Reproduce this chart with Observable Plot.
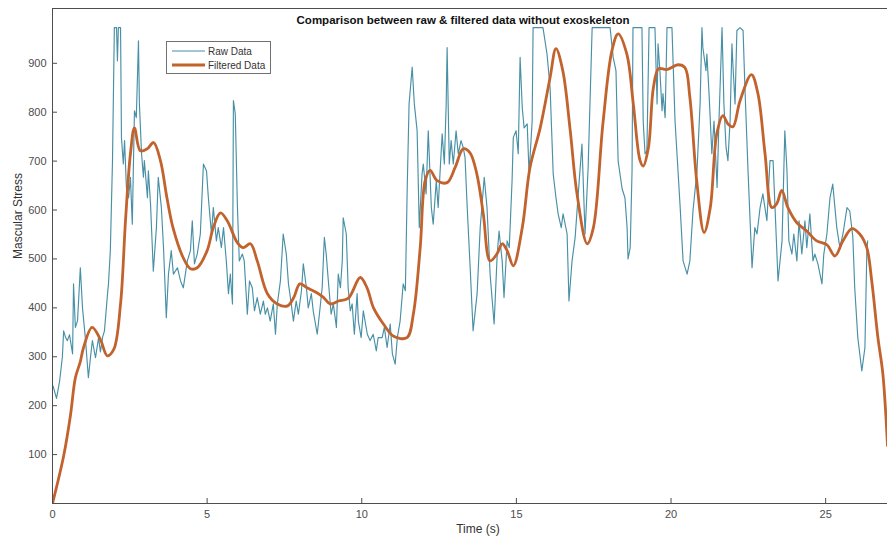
<!DOCTYPE html>
<html>
<head>
<meta charset="utf-8">
<script src="https://cdn.jsdelivr.net/npm/d3@7"></script>
<script src="https://cdn.jsdelivr.net/npm/@observablehq/plot@0.6"></script>
<style>
  body { margin: 0; background: #fff; }
  #wrap { position: relative; width: 887px; height: 540px; overflow: hidden; font-family: "Liberation Sans", Arial, sans-serif; }
  #legend { position: absolute; left: 166px; top: 41px; width: 103px; height: 31px; border: 1px solid #707070; background: #fff; }
</style>
</head>
<body>
<div id="wrap"></div>
<script>
const chartTitle = "Comparison between raw & filtered data without exoskeleton";
const xLabel = "Time (s)";
const yLabel = "Mascular Stress";
const seriesNames = ["Raw Data", "Filtered Data"];
const xTicks = [0, 5, 10, 15, 20, 25];
const yTicks = [100, 200, 300, 400, 500, 600, 700, 800, 900];
const xDomain = [0, 27];
const yDomain = [0, 1012];

const rawTime = [0.02,0.13,0.23,0.32,0.36,0.42,0.48,0.55,0.65,0.68,0.74,0.81,0.9,0.97,1.07,1.16,1.23,1.29,1.39,1.49,1.55,1.62,1.68,1.78,1.81,1.87,1.94,2.0,2.07,2.1,2.13,2.2,2.23,2.29,2.33,2.39,2.46,2.52,2.58,2.65,2.71,2.78,2.81,2.88,2.94,2.97,3.07,3.1,3.17,3.26,3.36,3.42,3.52,3.59,3.68,3.75,3.84,3.91,4.04,4.14,4.23,4.36,4.46,4.52,4.59,4.68,4.78,4.88,4.98,5.04,5.14,5.2,5.3,5.36,5.46,5.53,5.62,5.69,5.75,5.82,5.85,5.91,5.98,6.04,6.14,6.2,6.3,6.37,6.46,6.53,6.62,6.72,6.82,6.88,6.95,7.04,7.14,7.21,7.27,7.37,7.46,7.56,7.63,7.72,7.79,7.88,7.95,8.05,8.11,8.21,8.27,8.37,8.43,8.56,8.63,8.72,8.79,8.85,8.92,9.01,9.08,9.18,9.24,9.31,9.37,9.4,9.5,9.56,9.63,9.69,9.76,9.85,9.89,9.98,10.05,10.18,10.27,10.37,10.47,10.53,10.66,10.73,10.82,10.92,10.99,11.08,11.15,11.24,11.34,11.41,11.47,11.53,11.63,11.7,11.79,11.86,11.95,11.99,12.08,12.15,12.25,12.31,12.41,12.47,12.6,12.67,12.73,12.76,12.83,12.89,12.96,13.05,13.12,13.21,13.28,13.34,13.41,13.51,13.6,13.73,13.83,13.96,14.05,14.15,14.28,14.38,14.44,14.54,14.6,14.7,14.77,14.86,14.9,14.99,15.06,15.12,15.19,15.25,15.35,15.41,15.51,15.54,15.86,15.99,16.09,16.19,16.28,16.35,16.45,16.51,16.64,16.7,16.8,16.9,17.0,17.12,17.22,17.32,17.45,18.03,18.13,18.22,18.29,18.42,18.51,18.58,18.61,18.68,18.74,18.77,19.06,19.1,19.16,19.22,19.29,19.48,19.55,19.58,19.64,19.71,19.74,19.81,19.87,20.03,20.13,20.29,20.39,20.52,20.61,20.71,20.84,20.94,21.0,21.03,21.13,21.16,21.23,21.32,21.39,21.49,21.55,21.65,21.71,21.78,21.84,21.91,21.97,22.0,22.07,22.13,22.23,22.33,22.39,22.49,22.62,22.71,22.78,22.88,22.97,23.1,23.2,23.3,23.39,23.46,23.59,23.68,23.75,23.81,23.91,23.97,24.07,24.14,24.23,24.33,24.39,24.49,24.59,24.65,24.75,24.88,24.94,25.04,25.14,25.23,25.3,25.36,25.46,25.56,25.69,25.78,25.88,25.94,26.04,26.17,26.27,26.33,26.36];
const rawStress = [240,215,250,300,353,340,333,345,306,449,360,374,482,400,333,257,300,333,298,339,310,340,353,429,449,517,701,973,973,905,973,973,748,694,742,646,625,667,571,803,789,946,817,715,667,701,625,680,612,475,564,667,605,523,380,469,517,469,482,455,441,496,517,578,490,510,551,694,680,625,551,605,537,564,523,564,496,429,469,408,824,797,605,496,510,496,387,455,441,394,421,387,414,387,400,373,408,346,408,455,551,510,449,408,373,414,387,435,490,441,400,429,394,346,387,441,544,510,455,387,408,360,469,441,496,584,551,441,394,408,346,429,373,339,394,346,333,346,312,339,339,360,319,367,306,285,339,373,449,435,646,817,892,817,762,564,674,694,633,762,605,571,660,605,756,694,817,932,694,742,694,762,715,742,728,707,605,476,353,429,564,667,605,469,367,510,557,496,421,537,523,660,748,762,715,912,809,768,776,674,782,973,973,919,850,674,625,592,564,592,551,414,496,544,633,735,551,687,973,973,912,885,700,643,625,564,500,523,680,973,973,782,715,721,973,973,817,940,885,803,838,789,973,973,782,612,496,469,496,598,680,817,973,932,885,919,838,715,782,646,782,973,817,728,701,782,940,899,817,967,973,967,850,680,482,564,551,605,633,578,701,701,564,455,537,762,680,537,510,551,496,578,510,578,523,592,496,510,490,449,510,551,625,653,605,564,523,551,605,598,544,441,339,271,319,510,537];

const filtTime = [0,0.36,0.58,0.74,0.9,1.0,1.28,1.55,1.77,1.98,2.2,2.36,2.52,2.65,2.84,3.06,3.27,3.49,3.7,3.9,4.23,4.46,4.68,5.0,5.2,5.43,5.65,5.98,6.17,6.4,6.62,6.95,7.27,7.6,7.8,8.0,8.23,8.55,8.77,8.98,9.25,9.57,9.95,10.17,10.38,10.7,11.03,11.46,11.67,11.89,12.05,12.21,12.44,12.76,13.02,13.28,13.5,13.72,13.93,14.15,14.37,14.54,14.7,14.9,15.19,15.44,15.77,16.09,16.28,16.5,16.74,16.96,17.29,17.49,17.8,18.09,18.29,18.57,18.78,19.0,19.1,19.27,19.43,19.6,19.86,20.23,20.45,20.61,20.83,21.07,21.27,21.48,21.68,21.84,22.0,22.23,22.6,22.81,23.04,23.26,23.42,23.58,23.78,24.07,24.39,24.71,25.04,25.3,25.56,25.85,26.1,26.33,26.49,26.69,26.85,27.0];
const filtStress = [0,97,180,257,290,318,360,335,302,315,408,578,715,768,721,725,738,701,625,563,502,480,482,517,564,594,578,533,523,531,496,429,408,404,421,449,441,431,421,408,414,420,462,441,400,367,342,339,388,523,660,681,660,656,687,725,717,674,592,496,510,531,517,486,564,687,768,871,930,885,763,633,531,564,778,926,960,919,817,701,690,728,850,889,887,897,891,830,660,554,605,756,793,776,770,823,877,838,715,605,613,640,605,574,557,537,529,506,537,562,551,523,455,339,265,118];

const rawColor = "#4890a6";
const filtColor = "#c2622d";
const axisColor = "#4d4d4d";

const raw = rawTime.map((t, i) => ({t, v: rawStress[i]}));
const filt = filtTime.map((t, i) => ({t, v: filtStress[i]}));

const chart = Plot.plot({
  width: 887,
  height: 540,
  marginLeft: 52,
  marginRight: 0,
  marginTop: 8,
  marginBottom: 37,
  style: {fontFamily: "'Liberation Sans', Arial, sans-serif", fontSize: "11px", background: "#fff", overflow: "visible"},
  x: {domain: xDomain},
  y: {domain: yDomain},
  marks: [
    Plot.line(raw, {x: "t", y: "v", stroke: rawColor, strokeWidth: 1.15, clip: true}),
    Plot.line(filt, {x: "t", y: "v", stroke: filtColor, strokeWidth: 2.8, curve: "catmull-rom", clip: true}),
    Plot.ruleX([xDomain[0]], {stroke: axisColor, strokeWidth: 1}),
    Plot.ruleY([yDomain[0]], {stroke: axisColor, strokeWidth: 1}),
    Plot.ruleY([yDomain[1]], {stroke: axisColor, strokeWidth: 1}),
    Plot.axisX(xTicks, {anchor: "bottom", tickSize: -5, tickPadding: 12, label: null, color: axisColor, fontSize: 11}),
    Plot.axisY(yTicks, {anchor: "left", tickSize: -5, tickPadding: 11, label: null, color: axisColor, fontSize: 11}),
    Plot.text([chartTitle], {frameAnchor: "top", dx: -7, dy: 7, fontWeight: "bold", fontSize: 11.5, fill: "#111"}),
    Plot.text([xLabel], {frameAnchor: "bottom", dx: 8, dy: 29, fontSize: 12, fill: "#333"}),
    Plot.text([yLabel], {frameAnchor: "left", dx: -34, dy: 3, rotate: -90, fontSize: 12, fill: "#333"})
  ]
});

const wrap = document.getElementById("wrap");
wrap.appendChild(chart);

const legend = document.createElement("div");
legend.id = "legend";
legend.innerHTML = `<svg width="103" height="31" style="display:block;font-family:'Liberation Sans', Arial, sans-serif;font-size:10px">
  <line x1="5" x2="38" y1="9" y2="9" stroke="${rawColor}" stroke-width="1.15"/>
  <text x="41" y="12.5" fill="#333">${seriesNames[0]}</text>
  <line x1="5" x2="38" y1="23" y2="23" stroke="${filtColor}" stroke-width="2.8"/>
  <text x="41" y="26.5" fill="#333">${seriesNames[1]}</text>
</svg>`;
wrap.appendChild(legend);
</script>
</body>
</html>
